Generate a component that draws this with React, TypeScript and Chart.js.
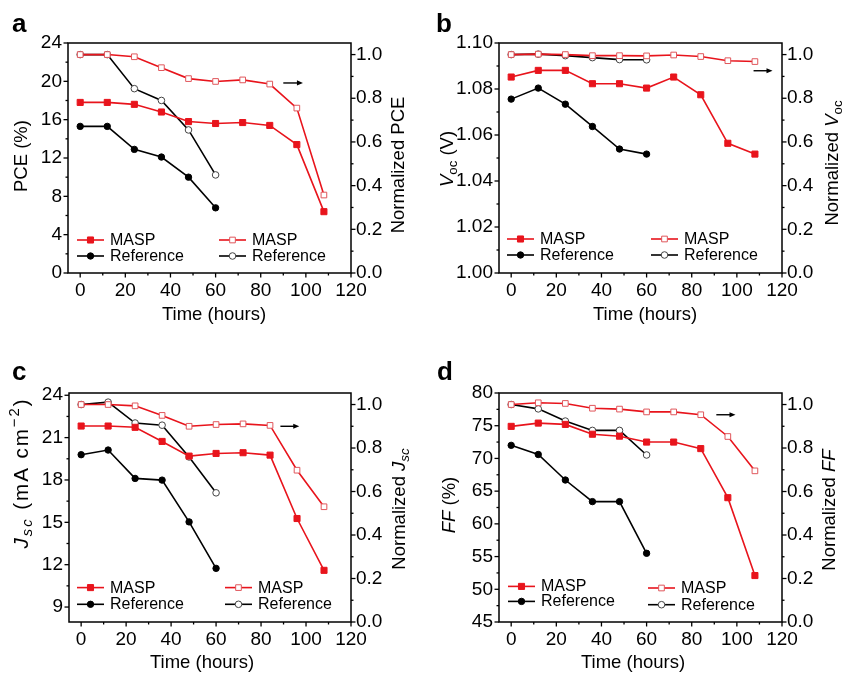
import React, { useEffect, useRef } from 'react';
import { Chart, registerables } from 'chart.js';

Chart.register(...registerables);

const FONT = "'Liberation Sans', Arial, Helvetica, sans-serif";

// ---------- shared axes ----------
const HOURS_MASP = [0, 12, 24, 36, 48, 60, 72, 84, 96, 108];
const HOURS_REF = [0, 12, 24, 36, 48, 60];
const TIME_TICKS = [0, 20, 40, 60, 80, 100, 120];
const NORM_TICKS = [0, 0.2, 0.4, 0.6, 0.8, 1.0];

// ---------- panel a: PCE ----------
const PCE_TICKS = [0, 4, 8, 12, 16, 20, 24];
const PCE_MASP = [17.8, 17.8, 17.6, 16.8, 15.8, 15.6, 15.7, 15.4, 13.4, 6.4];
const PCE_REF = [15.3, 15.3, 12.9, 12.1, 10.0, 6.8];
const PCE_MASP_NORM = [1.0, 1.0, 0.99, 0.94, 0.89, 0.877, 0.884, 0.865, 0.755, 0.357];
const PCE_REF_NORM = [1.0, 1.0, 0.844, 0.79, 0.655, 0.449];

// ---------- panel b: Voc ----------
const VOC_TICKS = [1.0, 1.02, 1.04, 1.06, 1.08, 1.1];
const VOC_MASP = [1.0852, 1.0881, 1.0881, 1.0823, 1.0823, 1.0804, 1.0852, 1.0775, 1.0564, 1.0517];
const VOC_REF = [1.0756, 1.0804, 1.0734, 1.0637, 1.0539, 1.0517];
const VOC_MASP_NORM = [1.0, 1.002, 1.0, 0.995, 0.995, 0.994, 0.998, 0.991, 0.972, 0.968];
const VOC_REF_NORM = [1.0, 1.002, 0.995, 0.986, 0.977, 0.976];

// ---------- panel c: Jsc ----------
const JSC_TICKS = [9, 12, 15, 18, 21, 24];
const JSC_MASP = [21.82, 21.82, 21.73, 20.73, 19.69, 19.88, 19.93, 19.76, 15.27, 11.6];
const JSC_REF = [19.79, 20.12, 18.11, 17.99, 15.03, 11.74];
const JSC_MASP_NORM = [1.0, 1.0, 0.994, 0.95, 0.9, 0.908, 0.911, 0.904, 0.698, 0.53];
const JSC_REF_NORM = [1.0, 1.011, 0.915, 0.905, 0.759, 0.594];

// ---------- panel d: FF ----------
const FF_TICKS = [45, 50, 55, 60, 65, 70, 75, 80];
const FF_MASP = [74.9, 75.4, 75.2, 73.7, 73.4, 72.5, 72.5, 71.5, 64.0, 52.1];
const FF_REF = [72.0, 70.6, 66.7, 63.4, 63.4, 55.5];
const FF_MASP_NORM = [1.0, 1.008, 1.005, 0.983, 0.979, 0.966, 0.966, 0.953, 0.853, 0.695];
const FF_REF_NORM = [1.0, 0.98, 0.924, 0.881, 0.881, 0.768];

const LEGEND_LABELS = ['MASP', 'Reference', 'MASP', 'Reference'];

const RED = '#e8141c';
const RED_OPEN = '#e0575c';
const BLACK = '#000000';
const GREY_OPEN = '#444444';

type Seg = { t: string; i?: boolean; sub?: boolean; sup?: boolean };

interface PanelCfg {
  letter: string;
  x: number; y: number; w: number; h: number;
  pad: { left: number; right: number; top: number; bottom: number };
  yMin: number; yMax: number; yTicks: number[]; yDec: number;
  masp: number[]; ref: number[]; maspNorm: number[]; refNorm: number[];
  leftTitle: Seg[]; rightTitle: Seg[]; leftSpacing: number; leftFont: number;
  leftTitlePos: [number, number]; rightTitlePos: [number, number]; timeTitlePos: [number, number];
  letterPos: [number, number];
  legendCols: [number, number]; legendRowsL: [number, number]; legendRowsR: [number, number];
  arrow: [number, number, number];
}

const TICK_FONT = 19;
const TITLE_FONT = 18.5;
const LEGEND_FONT = 16;

const PANELS: PanelCfg[] = [
  {
    letter: 'a', x: 0, y: 0, w: 422, h: 330,
    pad: { left: 68, right: 71, top: 43, bottom: 57 },
    yMin: 0, yMax: 24, yTicks: PCE_TICKS, yDec: 0,
    masp: PCE_MASP, ref: PCE_REF, maspNorm: PCE_MASP_NORM, refNorm: PCE_REF_NORM,
    leftTitle: [{ t: 'PCE (%)' }], rightTitle: [{ t: 'Normalized PCE' }], leftSpacing: 0, leftFont: TITLE_FONT,
    leftTitlePos: [22, 156], rightTitlePos: [399, 165], timeTitlePos: [214, 315],
    letterPos: [12, 32],
    legendCols: [9, 151], legendRowsL: [197, 213], legendRowsR: [197, 213],
    arrow: [90, 98.7, 0.87],
  },
  {
    letter: 'b', x: 422, y: 0, w: 422, h: 330,
    pad: { left: 77, right: 62, top: 43, bottom: 57 },
    yMin: 1.0, yMax: 1.1, yTicks: VOC_TICKS, yDec: 2,
    masp: VOC_MASP, ref: VOC_REF, maspNorm: VOC_MASP_NORM, refNorm: VOC_REF_NORM,
    leftTitle: [{ t: 'V', i: true }, { t: 'oc', sub: true }, { t: ' (V)' }],
    rightTitle: [{ t: 'Normalized ' }, { t: 'V', i: true }, { t: 'oc', sub: true }], leftSpacing: 0, leftFont: TITLE_FONT,
    leftTitlePos: [26, 159], rightTitlePos: [411, 163], timeTitlePos: [223, 315],
    letterPos: [14, 32],
    legendCols: [8, 152], legendRowsL: [196, 212], legendRowsR: [196, 212],
    arrow: [107.4, 115.8, 0.926],
  },
  {
    letter: 'c', x: 0, y: 330, w: 422, h: 343,
    pad: { left: 69, right: 71, top: 63, bottom: 51 },
    yMin: 7.94, yMax: 24.16, yTicks: JSC_TICKS, yDec: 0,
    masp: JSC_MASP, ref: JSC_REF, maspNorm: JSC_MASP_NORM, refNorm: JSC_REF_NORM,
    leftTitle: [{ t: 'J', i: true }, { t: 'sc', i: true, sub: true }, { t: ' (mA cm' }, { t: '−2', sup: true }, { t: ')' }],
    rightTitle: [{ t: 'Normalized ' }, { t: 'J', i: true }, { t: 'sc', i: true, sub: true }], leftSpacing: 2, leftFont: 20.5,
    leftTitlePos: [22, 144], rightTitlePos: [400, 179], timeTitlePos: [202, 333],
    letterPos: [12, 50],
    legendCols: [8, 156], legendRowsL: [194.6, 211.3], legendRowsR: [194.6, 211.3],
    arrow: [88.6, 97, 0.9],
  },
  {
    letter: 'd', x: 422, y: 330, w: 422, h: 343,
    pad: { left: 77, right: 62, top: 63, bottom: 51 },
    yMin: 45, yMax: 80, yTicks: FF_TICKS, yDec: 0,
    masp: FF_MASP, ref: FF_REF, maspNorm: FF_MASP_NORM, refNorm: FF_REF_NORM,
    leftTitle: [{ t: 'FF', i: true }, { t: ' (%)' }],
    rightTitle: [{ t: 'Normalized ' }, { t: 'FF', i: true }], leftSpacing: 0, leftFont: TITLE_FONT,
    leftTitlePos: [28, 175], rightTitlePos: [408, 180], timeTitlePos: [211, 333],
    letterPos: [15, 50],
    legendCols: [9, 149], legendRowsL: [193.4, 208.4], legendRowsR: [195, 211.7],
    arrow: [90.9, 99.4, 0.953],
  },
];

const X_MIN = -5.4;
const NORM_MAX = 1.053;

function drawRich(ctx: CanvasRenderingContext2D, segs: Seg[], cx: number, cy: number, rotate: boolean, size: number, spacing = 0) {
  ctx.save();
  ctx.translate(cx, cy);
  if (rotate) ctx.rotate(-Math.PI / 2);
  ctx.fillStyle = '#000';
  ctx.textBaseline = 'middle';
  ctx.textAlign = 'left';
  const fontFor = (s: Seg) => `${s.i ? 'italic ' : ''}${s.sub || s.sup ? size * 0.72 : size}px ${FONT}`;
  const pieces: { ch: string; font: string; w: number; dy: number }[] = [];
  segs.forEach((s) => {
    const f = fontFor(s);
    ctx.font = f;
    const dy = s.sub ? size * 0.3 : s.sup ? -size * 0.33 : 0;
    if (spacing > 0) {
      for (const ch of Array.from(s.t)) pieces.push({ ch, font: f, w: ctx.measureText(ch).width + spacing, dy });
    } else {
      pieces.push({ ch: s.t, font: f, w: ctx.measureText(s.t).width, dy });
    }
  });
  const total = pieces.reduce((acc, p) => acc + p.w, 0) - (spacing > 0 ? spacing : 0);
  let x = -total / 2;
  pieces.forEach((p) => {
    ctx.font = p.font;
    ctx.fillText(p.ch, x, p.dy);
    x += p.w;
  });
  ctx.restore();
}

function drawMarker(ctx: CanvasRenderingContext2D, ds: any, x: number, y: number) {
  ctx.save();
  ctx.fillStyle = ds.pointBackgroundColor;
  ctx.strokeStyle = ds.pointBorderColor;
  ctx.lineWidth = ds.pointBorderWidth;
  const r = ds.pointRadius;
  ctx.beginPath();
  if (ds.pointStyle === 'rect') {
    const s = r * Math.SQRT1_2;
    ctx.rect(x - s, y - s, 2 * s, 2 * s);
  } else {
    ctx.arc(x, y, r, 0, Math.PI * 2);
  }
  ctx.fill();
  ctx.stroke();
  ctx.restore();
}

const midpoints = (arr: number[]) => arr.slice(0, -1).map((v, i) => (v + arr[i + 1]) / 2);

function makePlugin(cfg: PanelCfg) {
  return {
    id: 'panelDecor' + cfg.letter,
    afterDraw(chart: any) {
      const ctx: CanvasRenderingContext2D = chart.ctx;
      const a = chart.chartArea;
      const xs = chart.scales.x;
      const ys = chart.scales.y;
      const y2 = chart.scales.y2;
      ctx.save();
      // ticks
      ctx.strokeStyle = '#000';
      ctx.lineWidth = 1.3;
      const inRange = (s: any, v: number) => v >= s.min - 1e-9 && v <= s.max + 1e-9;
      const tickSet = (s: any, majors: number[], side: string) => {
        const mins = midpoints(majors);
        const draw = (v: number, len: number) => {
          if (!inRange(s, v)) return;
          const p = s.getPixelForValue(v);
          ctx.beginPath();
          if (side === 'bottom') { ctx.moveTo(p, a.bottom); ctx.lineTo(p, a.bottom + len); }
          else if (side === 'left') { ctx.moveTo(a.left, p); ctx.lineTo(a.left - len, p); }
          else { ctx.moveTo(a.right, p); ctx.lineTo(a.right + len, p); }
          ctx.stroke();
        };
        majors.forEach((v) => draw(v, 4.5));
        mins.forEach((v) => draw(v, 2.5));
      };
      tickSet(xs, TIME_TICKS, 'bottom');
      tickSet(ys, cfg.yTicks, 'left');
      tickSet(y2, NORM_TICKS, 'right');
      // frame
      ctx.lineWidth = 1.5;
      ctx.strokeRect(a.left, a.top, a.right - a.left, a.bottom - a.top);

      // arrow
      const ax1 = xs.getPixelForValue(cfg.arrow[0]);
      const ax2 = xs.getPixelForValue(cfg.arrow[1]);
      const ay = y2.getPixelForValue(cfg.arrow[2]);
      ctx.lineWidth = 1.4;
      ctx.beginPath();
      ctx.moveTo(ax1, ay);
      ctx.lineTo(ax2 - 4, ay);
      ctx.stroke();
      ctx.fillStyle = '#000';
      ctx.beginPath();
      ctx.moveTo(ax2, ay);
      ctx.lineTo(ax2 - 6, ay - 2.6);
      ctx.lineTo(ax2 - 6, ay + 2.6);
      ctx.closePath();
      ctx.fill();

      // legend
      const dsets = chart.data.datasets;
      const entries = [
        { ds: dsets[0], col: cfg.legendCols[0], row: cfg.legendRowsL[0], label: LEGEND_LABELS[0] },
        { ds: dsets[1], col: cfg.legendCols[0], row: cfg.legendRowsL[1], label: LEGEND_LABELS[1] },
        { ds: dsets[2], col: cfg.legendCols[1], row: cfg.legendRowsR[0], label: LEGEND_LABELS[2] },
        { ds: dsets[3], col: cfg.legendCols[1], row: cfg.legendRowsR[1], label: LEGEND_LABELS[3] },
      ];
      entries.forEach((e) => {
        const x0 = a.left + e.col;
        const yy = a.top + e.row;
        const len = 27;
        ctx.strokeStyle = e.ds.borderColor;
        ctx.lineWidth = e.ds.borderWidth;
        ctx.beginPath();
        ctx.moveTo(x0, yy);
        ctx.lineTo(x0 + len, yy);
        ctx.stroke();
        drawMarker(ctx, e.ds, x0 + len / 2, yy);
        ctx.fillStyle = '#000';
        ctx.font = `${LEGEND_FONT}px ${FONT}`;
        ctx.textAlign = 'left';
        ctx.textBaseline = 'middle';
        ctx.fillText(e.label, x0 + len + 6, yy + 0.5);
      });

      // titles
      drawRich(ctx, cfg.leftTitle, cfg.leftTitlePos[0], cfg.leftTitlePos[1], true, cfg.leftFont, cfg.leftSpacing);
      drawRich(ctx, cfg.rightTitle, cfg.rightTitlePos[0], cfg.rightTitlePos[1], true, TITLE_FONT);
      drawRich(ctx, [{ t: 'Time (hours)' }], cfg.timeTitlePos[0], cfg.timeTitlePos[1], false, TITLE_FONT);

      // panel letter
      ctx.fillStyle = '#000';
      ctx.font = `bold 26px ${FONT}`;
      ctx.textAlign = 'left';
      ctx.textBaseline = 'alphabetic';
      ctx.fillText(cfg.letter, cfg.letterPos[0], cfg.letterPos[1]);
      ctx.restore();
    },
  };
}

const fitTo = (size: number) => (s: any) => {
  if (s.isHorizontal()) s.height = size; else s.width = size;
  s.paddingLeft = 0; s.paddingRight = 0; s.paddingTop = 0; s.paddingBottom = 0;
};

const NO_GRID = { display: false, drawTicks: false, tickLength: 0 };

function Panel({ cfg }: { cfg: PanelCfg }) {
  const ref = useRef<HTMLCanvasElement>(null);
  useEffect(() => {
    const tickFont = { family: FONT, size: TICK_FONT };
    const chart = new Chart(ref.current as HTMLCanvasElement, {
      type: 'line',
      data: {
        datasets: [
          {
            label: LEGEND_LABELS[0],
            data: HOURS_MASP.map((x, i) => ({ x, y: cfg.masp[i] })),
            yAxisID: 'y',
            borderColor: RED, backgroundColor: RED, borderWidth: 1.6,
            pointStyle: 'rect', pointRadius: 4.3, pointBorderWidth: 1,
            pointBackgroundColor: RED, pointBorderColor: RED, fill: false, tension: 0,
          },
          {
            label: LEGEND_LABELS[1],
            data: HOURS_REF.map((x, i) => ({ x, y: cfg.ref[i] })),
            yAxisID: 'y',
            borderColor: BLACK, backgroundColor: BLACK, borderWidth: 1.6,
            pointStyle: 'circle', pointRadius: 3.2, pointBorderWidth: 1,
            pointBackgroundColor: BLACK, pointBorderColor: BLACK, fill: false, tension: 0,
          },
          {
            label: LEGEND_LABELS[2],
            data: HOURS_MASP.map((x, i) => ({ x, y: cfg.maspNorm[i] })),
            yAxisID: 'y2',
            borderColor: RED, backgroundColor: '#fff', borderWidth: 1.6,
            pointStyle: 'rect', pointRadius: 4.0, pointBorderWidth: 1,
            pointBackgroundColor: '#ffffff', pointBorderColor: RED_OPEN, fill: false, tension: 0,
          },
          {
            label: LEGEND_LABELS[3],
            data: HOURS_REF.map((x, i) => ({ x, y: cfg.refNorm[i] })),
            yAxisID: 'y2',
            borderColor: BLACK, backgroundColor: '#fff', borderWidth: 1.6,
            pointStyle: 'circle', pointRadius: 3.3, pointBorderWidth: 1,
            pointBackgroundColor: '#ffffff', pointBorderColor: GREY_OPEN, fill: false, tension: 0,
          },
        ],
      },
      options: {
        responsive: false,
        animation: false,
        devicePixelRatio: 1,
        layout: { padding: { left: 0, right: 0, top: cfg.pad.top, bottom: 0 } },
        plugins: { legend: { display: false }, tooltip: { enabled: false }, title: { display: false } },
        scales: {
          x: {
            type: 'linear', position: 'bottom', min: X_MIN, max: 120,
            afterBuildTicks: (s: any) => { s.ticks = TIME_TICKS.map((v) => ({ value: v })); },
            afterFit: fitTo(cfg.pad.bottom),
            ticks: { font: tickFont, color: '#000', padding: 6, autoSkip: false, maxRotation: 0, minRotation: 0, callback: (v: any) => String(Math.round(Number(v))) },
            grid: NO_GRID, border: { display: false },
          },
          y: {
            type: 'linear', position: 'left', min: cfg.yMin, max: cfg.yMax,
            afterBuildTicks: (s: any) => { s.ticks = cfg.yTicks.map((v) => ({ value: v })); },
            afterFit: fitTo(cfg.pad.left),
            ticks: { font: tickFont, color: '#000', padding: 6, autoSkip: false, callback: (v: any) => Number(v).toFixed(cfg.yDec) },
            grid: NO_GRID, border: { display: false },
          },
          y2: {
            type: 'linear', position: 'right', min: 0, max: NORM_MAX,
            afterBuildTicks: (s: any) => { s.ticks = NORM_TICKS.map((v) => ({ value: v })); },
            afterFit: fitTo(cfg.pad.right),
            ticks: { font: tickFont, color: '#000', padding: 5, autoSkip: false, callback: (v: any) => Number(v).toFixed(1) },
            grid: NO_GRID, border: { display: false },
          },
        },
      } as any,
      plugins: [makePlugin(cfg)],
    });
    return () => chart.destroy();
  }, [cfg]);
  return (
    <canvas
      ref={ref}
      width={cfg.w}
      height={cfg.h}
      style={{ position: 'absolute', left: cfg.x, top: cfg.y, width: cfg.w, height: cfg.h }}
    />
  );
}

export default function App() {
  return (
    <div style={{ position: 'absolute', left: 0, top: 0, width: 844, height: 673, background: '#fff', overflow: 'hidden' }}>
      {PANELS.map((p) => (
        <Panel key={p.letter} cfg={p} />
      ))}
    </div>
  );
}
